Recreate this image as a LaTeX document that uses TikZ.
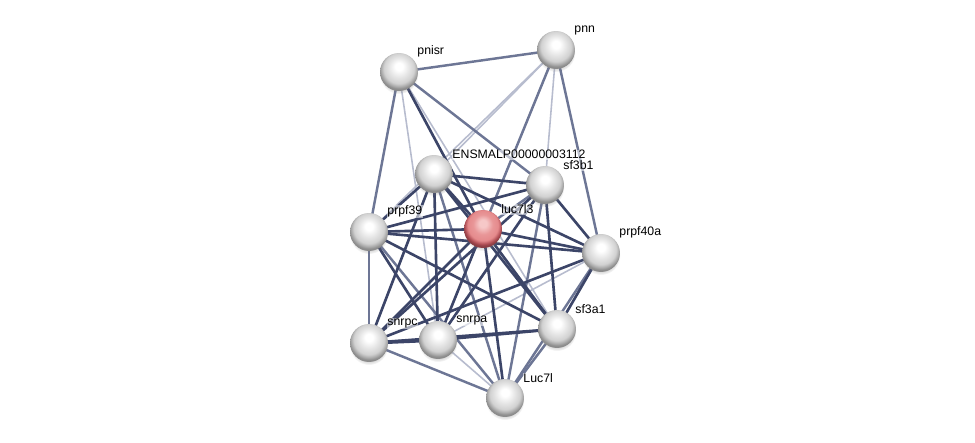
\documentclass[tikz,border=0pt]{standalone}
\usepackage{fontspec}
\setmainfont{Liberation Sans}
\usetikzlibrary{backgrounds, shadows}

\definecolor{edgedark}{HTML}{3C4568}
\definecolor{edgemid}{HTML}{6D7695}
\definecolor{edgelight}{HTML}{B7BCCE}
\definecolor{qpale}{HTML}{F6C8C8}
\definecolor{qmid}{HTML}{E58A8C}
\definecolor{qrim}{HTML}{B04E55}
\pgfdeclareradialshading{greyball}{\pgfpoint{0bp}{8bp}}{color(0bp)=(white); color(5bp)=(white); color(13bp)=(black!10); color(20bp)=(black!18); color(24bp)=(black!35); color(26bp)=(black!45); color(50bp)=(black!45)}
\pgfdeclareradialshading{redball}{\pgfpoint{0bp}{8bp}}{color(0bp)=(qpale); color(5bp)=(qpale); color(13bp)=(qmid!80!qpale); color(20bp)=(qmid); color(24bp)=(qrim); color(26bp)=(qrim!80!black); color(50bp)=(qrim!80!black)}

\begin{document}
\begin{tikzpicture}[x=0.02cm, y=-0.02cm,
        prot/.style={circle, minimum size=0.76cm, inner sep=0pt, shading=greyball,
            circular drop shadow={shadow xshift=0pt, shadow yshift=-1.5pt, opacity=0.25, shadow scale=1.02},
            label distance=2pt},
        query/.style={prot, shading=redball},
        lbl/.style={font=\fontsize{7}{8}\selectfont, inner sep=0.5pt, xshift=2pt,
            fill=white, fill opacity=0.55, text opacity=1},
        dk/.style={draw=edgedark, line width=1.5pt},
        md/.style={draw=edgemid, line width=1.4pt},
        lt/.style={draw=edgelight, line width=0.9pt}]
    \useasboundingbox (0,0) rectangle (975,443);
    % proteins
    \node[prot, label={[lbl]45:pnisr}] (pnisr) at (399,72) {};
    \node[prot, label={[lbl]45:pnn}] (pnn) at (556,50) {};
    \node[prot, label={[lbl]45:ENSMALP00000003112}] (ensmalp) at (434,174) {};
    \node[prot, label={[lbl]45:sf3b1}] (sf3b1) at (545,185) {};
    \node[query, label={[lbl]45:luc7l3}] (luc7l3) at (483,229) {};
    \node[prot, label={[lbl]45:prpf39}] (prpf39) at (369,232) {};
    \node[prot, label={[lbl]45:prpf40a}] (prpf40a) at (601,253) {};
    \node[prot, label={[lbl]45:sf3a1}] (sf3a1) at (557,329) {};
    \node[prot, label={[lbl]45:snrpc}] (snrpc) at (369,343) {};
    \node[prot, label={[lbl]45:snrpa}] (snrpa) at (438,340) {};
    \node[prot, label={[lbl]45:Luc7l}] (luc7l) at (505,398) {};
    % interactions
    \begin{scope}[on background layer]
        \foreach \a/\b in {pnisr/snrpa, pnisr/sf3a1, pnn/ensmalp, pnn/prpf39, pnn/sf3b1, snrpa/luc7l, prpf40a/snrpa, pnn/snrpa}
            \draw[lt] (\a.center) -- (\b.center);
        \foreach \a/\b in {pnisr/pnn, pnisr/prpf39, pnisr/sf3b1, pnn/prpf40a, pnn/luc7l3, ensmalp/luc7l, sf3b1/luc7l3,
                sf3b1/luc7l, prpf39/snrpc, prpf39/luc7l, snrpc/luc7l, sf3a1/luc7l, prpf40a/luc7l}
            \draw[md] (\a.center) -- (\b.center);
        \foreach \a/\b in {pnisr/luc7l3, ensmalp/sf3b1, ensmalp/luc7l3, ensmalp/prpf39, ensmalp/prpf40a, ensmalp/snrpc,
                ensmalp/snrpa, ensmalp/sf3a1, sf3b1/prpf39, sf3b1/prpf40a, sf3b1/sf3a1, sf3b1/snrpa, sf3b1/snrpc,
                luc7l3/prpf39, luc7l3/prpf40a, luc7l3/sf3a1, luc7l3/snrpc, luc7l3/snrpa, luc7l3/luc7l,
                prpf39/prpf40a, prpf39/sf3a1, prpf39/snrpa, prpf40a/sf3a1, prpf40a/snrpc, sf3a1/snrpa, sf3a1/snrpc}
            \draw[dk] (\a.center) -- (\b.center);
        \draw[dk, line width=2pt] (snrpc.center) -- (snrpa.center);
    \end{scope}
\end{tikzpicture}
\end{document}
